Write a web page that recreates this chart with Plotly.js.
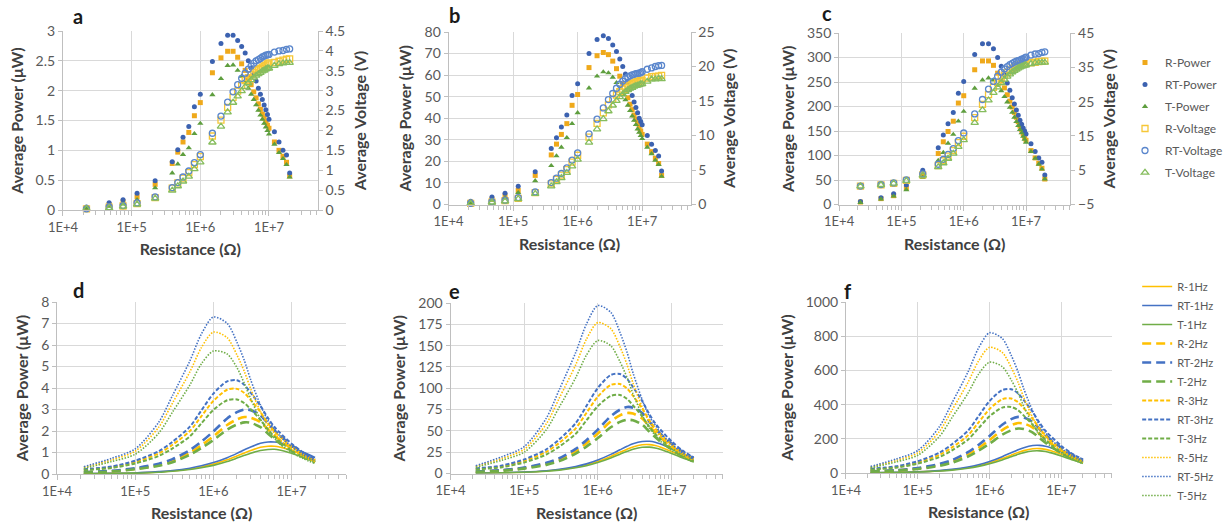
<!DOCTYPE html>
<html><head><meta charset="utf-8">
<script src="https://cdn.plot.ly/plotly-3.0.1.min.js"></script>
<style>html,body{margin:0;padding:0;background:#fff}#chart{width:1228px;height:529px}</style>
</head><body><div id="chart"></div>
<script>
// ---------- DATA (top panels: discrete measurements) ----------
const R_pts = [22e3,47e3,75e3,120e3,220e3,390e3,470e3,560e3,680e3,820e3,1e6,1.5e6,2e6,2.5e6,3e6,3.5e6,4e6,4.5e6,5e6,5.5e6,6e6,6.5e6,7e6,7.5e6,8e6,8.5e6,9e6,9.5e6,10e6,12e6,14e6,16e6,18e6,20e6];

const a_R_power  = [0.03,0.09,0.14,0.22,0.43,0.78,0.97,1.14,1.30,1.58,1.80,2.30,2.55,2.66,2.66,2.56,2.45,2.34,2.22,2.10,1.98,1.88,1.78,1.69,1.61,1.54,1.47,1.42,1.37,1.14,1.00,0.90,0.80,0.57];
const a_RT_power = [0.05,0.12,0.17,0.28,0.49,0.81,1.01,1.22,1.40,1.73,1.94,2.49,2.79,2.93,2.93,2.84,2.74,2.63,2.50,2.38,2.27,2.16,2.04,1.94,1.85,1.76,1.68,1.60,1.52,1.31,1.14,1.00,0.92,0.62];
const a_T_power  = [0.03,0.06,0.10,0.17,0.37,0.62,0.77,0.93,1.04,1.28,1.45,1.93,2.20,2.42,2.43,2.34,2.24,2.14,2.04,1.94,1.85,1.76,1.67,1.59,1.52,1.45,1.39,1.33,1.27,1.10,0.96,0.86,0.76,0.55];
const a_R_voltage  = [0.03,0.07,0.10,0.16,0.31,0.55,0.68,0.80,0.94,1.14,1.34,1.86,2.26,2.58,2.83,2.99,3.13,3.25,3.33,3.40,3.45,3.50,3.53,3.56,3.59,3.62,3.64,3.67,3.70,3.71,3.74,3.77,3.79,3.80];
const a_RT_voltage = [0.03,0.08,0.11,0.18,0.33,0.56,0.69,0.83,0.98,1.19,1.39,1.93,2.36,2.71,2.97,3.15,3.31,3.44,3.54,3.62,3.69,3.75,3.78,3.81,3.85,3.87,3.89,3.90,3.91,3.97,4.00,4.01,4.04,4.05];
const a_T_voltage  = [0.03,0.05,0.09,0.14,0.29,0.49,0.60,0.72,0.84,1.03,1.20,1.70,2.10,2.46,2.70,2.86,2.99,3.10,3.19,3.27,3.33,3.38,3.42,3.45,3.49,3.51,3.54,3.56,3.56,3.63,3.67,3.69,3.70,3.70];

const b_R_power  = [1.0,2.5,4.0,6.5,13.5,23,28,32.5,37.5,46,51,63.5,69,70.5,69.5,66.5,63,59.5,56,52.5,49.5,46.5,44,41.5,39.5,37.5,35.5,34,32.5,28,24.5,21.5,19,13.5];
const b_RT_power = [1.5,3.5,5.2,8.5,15.2,26,31,36,41.5,50.5,56,70,76.5,78.3,77,74,71,67.5,64,60.5,57,53.5,50.5,47.5,45,42.5,40,38.5,37,32,28,25,22.5,15.5];
const b_T_power  = [0.8,2.0,3.0,5.5,11,18,22.5,26.5,31,37.5,42.5,54,59.5,61.5,61,59,56.5,54,51,48.5,46,43.5,41,39,37,35,33.5,32,30.5,26.5,23.5,20.5,18.5,13];
const b_R_voltage  = [0.15,0.34,0.55,0.88,1.72,2.99,3.63,4.27,5.05,6.14,7.14,9.76,11.75,13.28,14.44,15.26,15.87,16.36,16.73,16.99,17.23,17.39,17.55,17.64,17.78,17.85,17.87,17.97,18.03,18.33,18.52,18.55,18.6,18.7];
const b_RT_voltage = [0.18,0.41,0.62,1.01,1.83,3.18,3.82,4.49,5.31,6.44,7.48,10.25,12.37,13.99,15.20,16.09,16.85,17.43,17.89,18.24,18.49,18.65,18.80,18.87,18.97,19.01,19.03,19.12,19.24,19.60,19.80,20.0,20.12,20.15];
const b_T_voltage  = [0.13,0.31,0.47,0.81,1.56,2.65,3.25,3.85,4.59,5.55,6.52,9.0,10.91,12.40,13.53,14.37,15.03,15.59,15.97,16.33,16.61,16.82,16.94,17.10,17.20,17.25,17.36,17.44,17.46,17.83,18.14,18.15,18.25,18.2];

const c_R_power  = [5,12,18,34,60,104,128,149,170,207,222,275,293,293,284,268,252,238,224,211,199,188,178,169,160,152,144,137,131,110,95,84,74,52];
const c_RT_power = [6,14,22,40,70,116,142,165,188,227,251,306,328,328,318,300,282,265,248,233,218,205,193,182,172,164,156,150,144,124,108,95,86,60];
const c_T_power  = [4,11,17,30,55,90,106,125,143,170,190,237,254,258,254,243,232,220,209,198,188,178,169,161,153,146,139,133,127,108,94,82,72,52];
const c_R_voltage  = [0.33,0.75,1.16,2.02,3.63,6.37,7.76,9.13,10.75,13.03,14.90,20.31,24.21,27.06,29.19,30.63,31.75,32.73,33.47,34.07,34.55,34.96,35.30,35.60,35.78,35.94,36.0,36.08,36.19,36.33,36.47,36.66,36.7,36.8];
const c_RT_voltage = [0.36,0.81,1.28,2.19,3.92,6.73,8.17,9.61,11.31,13.64,15.84,21.42,25.61,28.64,30.89,32.40,33.59,34.53,35.21,35.80,36.17,36.50,36.76,36.95,37.09,37.34,37.47,37.75,37.95,38.57,38.88,38.99,39.35,39.5];
const c_T_voltage  = [0.30,0.72,1.13,1.90,3.48,5.92,7.06,8.37,9.86,11.81,13.78,18.85,22.54,25.40,27.60,29.16,30.46,31.46,32.33,33.0,33.59,34.01,34.39,34.75,34.99,35.23,35.37,35.55,35.64,36.0,36.28,36.3,36.4,36.4];

// ---------- DATA (bottom panels: curves) ----------
const R_line = [22e3,50e3,100e3,200e3,300e3,500e3,700e3,1e6,1.5e6,2e6,2.5e6,3e6,4e6,5e6,6e6,7e6,10e6,14e6,20e6];

const d_R_1Hz  = [0.01,0.03,0.05,0.10,0.14,0.23,0.33,0.46,0.66,0.84,0.98,1.09,1.24,1.29,1.29,1.26,1.10,0.88,0.66];
const d_RT_1Hz = [0.02,0.03,0.05,0.11,0.16,0.27,0.38,0.53,0.76,0.96,1.13,1.26,1.43,1.49,1.49,1.46,1.27,1.02,0.77];
const d_T_1Hz  = [0.01,0.02,0.04,0.08,0.13,0.21,0.29,0.40,0.58,0.74,0.87,0.97,1.09,1.14,1.15,1.12,0.97,0.78,0.59];
const d_R_2Hz  = [0.08,0.13,0.24,0.42,0.61,0.98,1.33,1.75,2.28,2.54,2.65,2.62,2.41,2.07,1.80,1.59,1.19,0.87,0.61];
const d_RT_2Hz = [0.09,0.15,0.27,0.48,0.69,1.11,1.50,1.98,2.58,2.88,3.00,2.97,2.73,2.34,2.04,1.80,1.35,0.99,0.69];
const d_T_2Hz  = [0.07,0.12,0.22,0.38,0.55,0.89,1.20,1.58,2.06,2.30,2.40,2.38,2.18,1.87,1.63,1.44,1.08,0.79,0.55];
const d_R_3Hz  = [0.20,0.32,0.56,0.96,1.36,2.00,2.68,3.40,3.92,3.96,3.76,3.44,2.88,2.36,2.00,1.76,1.28,0.92,0.64];
const d_RT_3Hz = [0.22,0.35,0.62,1.06,1.50,2.20,2.95,3.74,4.31,4.36,4.14,3.78,3.17,2.60,2.20,1.94,1.41,1.01,0.70];
const d_T_3Hz  = [0.18,0.28,0.49,0.84,1.19,1.75,2.35,2.98,3.43,3.47,3.29,3.01,2.52,2.07,1.75,1.54,1.12,0.81,0.56];
const d_R_5Hz  = [0.30,0.66,1.06,2.18,3.30,4.75,5.87,6.60,6.34,5.54,4.75,3.96,2.90,2.24,1.91,1.62,1.16,0.83,0.56];
const d_RT_5Hz = [0.34,0.73,1.17,2.41,3.65,5.26,6.50,7.30,7.01,6.13,5.26,4.38,3.21,2.48,2.12,1.79,1.28,0.91,0.62];
const d_T_5Hz  = [0.26,0.58,0.92,1.90,2.88,4.14,5.12,5.72,5.58,4.95,4.20,3.50,2.55,1.97,1.67,1.41,1.01,0.72,0.49];

const e_R_1Hz  = [0.3,0.8,1.5,3.0,4.4,7.3,10.1,14.1,20.0,24.9,28.5,31.1,33.7,33.9,32.8,31.2,25.9,20.2,14.9];
const e_RT_1Hz = [0.4,0.8,1.7,3.3,4.9,8.2,11.3,15.8,22.4,27.8,31.9,34.8,37.6,37.8,36.7,34.8,29.0,22.6,16.6];
const e_T_1Hz  = [0.3,0.7,1.4,2.7,4.0,6.7,9.2,12.9,18.3,22.7,26.0,28.4,30.7,30.9,29.9,28.4,23.6,18.4,13.6];
const e_R_2Hz  = [2.1,3.6,6.4,11.4,16.3,26.3,35.5,46.9,61.1,68.2,71.0,70.3,64.6,55.4,48.3,42.6,32.0,23.4,16.3];
const e_RT_2Hz = [2.3,3.9,7.0,12.5,17.9,28.9,39.0,51.5,67.1,74.9,78.0,77.2,71.0,60.8,53.0,46.8,35.1,25.7,17.9];
const e_T_2Hz  = [1.9,3.2,5.7,10.1,14.5,23.3,31.5,41.6,54.2,60.5,63.0,62.4,57.3,49.1,42.8,37.8,28.4,20.8,14.5];
const e_R_3Hz  = [5.3,8.5,14.8,25.4,36.0,53.0,71.0,90.1,103.9,104.9,99.6,91.2,76.3,62.5,53.0,46.6,33.9,24.4,17.0];
const e_RT_3Hz = [5.9,9.4,16.5,28.3,40.1,59.0,79.1,100.3,115.6,116.8,110.9,101.5,85.0,69.6,59.0,51.9,37.8,27.1,18.9];
const e_T_3Hz  = [4.7,7.4,13.0,22.3,31.6,46.5,62.3,79.1,91.1,92.1,87.4,80.0,67.0,54.9,46.5,40.9,29.8,21.4,14.9];
const e_R_5Hz  = [8.1,17.7,28.3,58.4,88.5,127.4,157.5,177,169.9,148.7,127.4,106.2,77.9,60.2,51.3,43.4,31.0,22.1,15.0];
const e_RT_5Hz = [9.1,19.7,31.5,65.0,98.5,141.8,175.3,197,189.1,165.5,141.8,118.2,86.7,67.0,57.1,48.3,34.5,24.6,16.7];
const e_T_5Hz  = [7.2,15.6,25.0,51.5,78.0,112.3,138.8,156,149.8,131.0,112.3,93.6,68.6,53.0,45.2,38.2,27.3,19.5,13.3];

const f_R_1Hz  = [1.4,3.1,6.3,12.4,18.6,30.7,42.5,59.3,84.2,104.5,120,130.8,141.6,142.4,138,131.1,109,85.1,62.6];
const f_RT_1Hz = [1.6,3.6,7.1,14.1,21.1,34.8,48.1,67.2,95.4,118.4,135.9,148.2,160.4,161.4,156.3,148.6,123.4,96.4,71];
const f_T_1Hz  = [1.3,2.9,5.7,11.3,16.9,28,38.6,54,76.6,95,109.1,119,128.7,129.5,125.5,119.2,99.1,77.4,56.9];
const f_R_2Hz  = [8.8,14.6,26.3,46.7,67.2,108,146,192.7,251.1,280.3,292,289.1,265.7,227.8,198.6,175.2,131.4,96.4,67.2];
const f_RT_2Hz = [9.8,16.4,29.5,52.5,75.4,121.4,164,216.5,282.1,314.9,328,324.7,298.5,255.8,223,196.8,147.6,108.2,75.4];
const f_T_2Hz  = [7.8,13,23.4,41.6,59.8,96.2,130,171.6,223.6,249.6,260,257.4,236.6,202.8,176.8,156,117,85.8,59.8];
const f_R_3Hz  = [22,35.2,61.6,105.6,149.6,220,294.8,374,431.2,435.6,413.6,378.4,316.8,259.6,220,193.6,140.8,101.2,70.4];
const f_RT_3Hz = [24.8,39.6,69.3,118.8,168.3,247.5,331.7,420.8,485.1,490.1,465.3,425.7,356.4,292.1,247.5,217.8,158.4,113.9,79.2];
const f_T_3Hz  = [19.5,31.2,54.6,93.6,132.6,195,261.3,331.5,382.2,386.1,366.6,335.4,280.8,230.1,195,171.6,124.8,89.7,62.4];
const f_R_5Hz  = [33.8,73.5,117.6,242.6,367.5,529.2,654.2,735,705.6,617.4,529.2,441,323.4,249.9,213.2,180.1,128.6,91.9,62.5];
const f_RT_5Hz = [37.7,82,131.2,270.6,410,590.4,729.8,820,787.2,688.8,590.4,492,360.8,278.8,237.8,200.9,143.5,102.5,69.7];
const f_T_5Hz  = [29.8,64.8,103.7,213.8,324,466.6,576.7,648,622.1,544.3,466.6,388.8,285.1,220.3,187.9,158.8,113.4,81,55.1];

const xTickVals = [1e4,1e5,1e6,1e7];
const xTickText = ['1E+4','1E+5','1E+6','1E+7'];

// ---------- STYLES ----------
const FONT = "Lato, 'Open Sans', 'Liberation Sans', sans-serif";
const GRID = '#D9D9D9', LINE = '#BFBFBF', TICKTXT = '#595959', TITLE = '#404040';
const cR = '#FFC000', cRT = '#4472C4', cT = '#70AD47';
const mk = {
  R_P:  {symbol:'square', size:5, color:'#EFA91B'},
  RT_P: {symbol:'circle', size:5, color:'#3C62B0'},
  T_P:  {symbol:'triangle-up', size:5.5, color:'#5E9E3E'},
  R_V:  {symbol:'square-open', size:6, color:'#F6C737', line:{width:1.3}},
  RT_V: {symbol:'circle-open', size:6, color:'#5A86CC', line:{width:1.3}},
  T_V:  {symbol:'triangle-up-open', size:6.5, color:'#86BD5E', line:{width:1.3}}
};

const minorVals = [];
for (let e = 4; e <= 7; e++) for (let m = 2; m <= 9; m++) minorVals.push(m * Math.pow(10, e));

const traces = [];
function pts(y, xa, ya, name, style, show) {
  traces.push({type:'scatter', mode:'markers', x:R_pts, y:y, xaxis:xa, yaxis:ya, name:name,
    showlegend:show, legend:'legend', legendgroup:name, marker:style, cliponaxis:false});
}
function ln(y, xa, ya, name, color, dash, width, show) {
  traces.push({type:'scatter', mode:'lines', x:R_line, y:y, xaxis:xa, yaxis:ya, name:name,
    showlegend:show, legend:'legend2', legendgroup:name,
    line:{color:color, dash:dash, width:width, shape:'spline', smoothing:0.8}});
}

const topPanels = [
  ['x','y','y7', a_R_power,a_RT_power,a_T_power,a_R_voltage,a_RT_voltage,a_T_voltage, true],
  ['x2','y2','y8', b_R_power,b_RT_power,b_T_power,b_R_voltage,b_RT_voltage,b_T_voltage, false],
  ['x3','y3','y9', c_R_power,c_RT_power,c_T_power,c_R_voltage,c_RT_voltage,c_T_voltage, false]
];
topPanels.forEach(p => {
  pts(p[3], p[0], p[1], 'R-Power', mk.R_P, p[9]);
  pts(p[4], p[0], p[1], 'RT-Power', mk.RT_P, p[9]);
  pts(p[5], p[0], p[1], 'T-Power', mk.T_P, p[9]);
  pts(p[6], p[0], p[2], 'R-Voltage', mk.R_V, p[9]);
  pts(p[7], p[0], p[2], 'RT-Voltage', mk.RT_V, p[9]);
  pts(p[8], p[0], p[2], 'T-Voltage', mk.T_V, p[9]);
});

const D1 = 'solid', D2 = '9px,5px', D3 = '4px,2px', D5 = '1.5px,1.5px';
const bottomPanels = [
  ['x4','y4', [d_R_1Hz,d_RT_1Hz,d_T_1Hz,d_R_2Hz,d_RT_2Hz,d_T_2Hz,d_R_3Hz,d_RT_3Hz,d_T_3Hz,d_R_5Hz,d_RT_5Hz,d_T_5Hz], true],
  ['x5','y5', [e_R_1Hz,e_RT_1Hz,e_T_1Hz,e_R_2Hz,e_RT_2Hz,e_T_2Hz,e_R_3Hz,e_RT_3Hz,e_T_3Hz,e_R_5Hz,e_RT_5Hz,e_T_5Hz], false],
  ['x6','y6', [f_R_1Hz,f_RT_1Hz,f_T_1Hz,f_R_2Hz,f_RT_2Hz,f_T_2Hz,f_R_3Hz,f_RT_3Hz,f_T_3Hz,f_R_5Hz,f_RT_5Hz,f_T_5Hz], false]
];
const lineNames = ['R-1Hz','RT-1Hz','T-1Hz','R-2Hz','RT-2Hz','T-2Hz','R-3Hz','RT-3Hz','T-3Hz','R-5Hz','RT-5Hz','T-5Hz'];
const lineColors = [cR,cRT,cT];
const lineDash = [D1,D2,D3,D5];
const lineW = [1.6,2.6,2.0,1.6];
bottomPanels.forEach(p => {
  p[2].forEach((ys, i) => ln(ys, p[0], p[1], lineNames[i], lineColors[i%3], lineDash[Math.floor(i/3)], lineW[Math.floor(i/3)], p[3]));
});

// ---------- LAYOUT ----------
const W = 1228, H = 529;
function dx(a,b){ return [a/W, b/W]; }
function dy(t,b){ return [1-b/H, 1-t/H]; }
function xax(domain, rmax, anchor) {
  return {domain:domain, anchor:anchor, type:'log', range:[4, rmax], tickmode:'array', tickvals:xTickVals, ticktext:xTickText,
    showgrid:true, gridcolor:GRID, gridwidth:1, showline:true, linecolor:LINE, linewidth:1, ticks:'outside', ticklen:5, tickcolor:LINE,
    tickfont:{family:FONT, size:13, color:TICKTXT}, zeroline:false,
    minor:{tickmode:'array', tickvals:minorVals, ticks:'outside', ticklen:4, tickcolor:LINE, showgrid:false},
    title:{text:'<b>Resistance (Ω)</b>', font:{family:FONT, size:16, color:TITLE}, standoff:10}};
}
function yax(domain, range, dtick, anchor, title) {
  return {domain:domain, anchor:anchor, range:range, dtick:dtick, tick0:0, showgrid:true, gridcolor:GRID, gridwidth:1,
    showline:true, linecolor:LINE, ticks:'outside', ticklen:4, tickcolor:LINE, zeroline:false,
    tickfont:{family:FONT, size:14, color:TICKTXT},
    title:{text:'<b>'+title+'</b>', font:{family:FONT, size:16, color:TITLE}, standoff:8}};
}
function yright(over, anchor, range, dtick, tick0) {
  return {overlaying:over, anchor:anchor, side:'right', range:range, dtick:dtick, tick0:tick0, showgrid:false, zeroline:false,
    showline:true, linecolor:LINE, ticks:'outside', ticklen:4, tickcolor:LINE,
    tickfont:{family:FONT, size:14, color:TICKTXT},
    title:{text:'<b>Average Voltage (V)</b>', font:{family:FONT, size:16, color:TITLE}, standoff:10}};
}
const PW = 'Average Power (μW)';
const layout = {
  width:W, height:H, margin:{l:0,r:0,t:0,b:0}, paper_bgcolor:'#fff', plot_bgcolor:'#fff',
  font:{family:FONT, color:TICKTXT},
  xaxis:  xax(dx(64,323),   7.71, 'y'),
  xaxis2: xax(dx(456,702),  7.75, 'y2'),
  xaxis3: xax(dx(853,1088), 7.71, 'y3'),
  xaxis4: xax(dx(58,352),   7.70, 'y4'),
  xaxis5: xax(dx(458,735),  7.70, 'y5'),
  xaxis6: xax(dx(860,1130), 7.70, 'y6'),
  yaxis:  yax(dy(31,210),    [0,3],    0.5, 'x',  PW),
  yaxis2: yax(dy(32,204.5),  [0,80],   10,  'x2', PW),
  yaxis3: yax(dy(33,204.5),  [0,350],  50,  'x3', PW),
  yaxis4: yax(dy(302,474),   [0,8],    1,   'x4', PW),
  yaxis5: yax(dy(303,473.5), [0,200],  25,  'x5', PW),
  yaxis6: yax(dy(302,473),   [0,1000], 200, 'x6', PW),
  yaxis7: yright('y',  'x',  [0,4.5], 0.5, 0),
  yaxis8: yright('y2', 'x2', [0,25],  5,   0),
  yaxis9: yright('y3', 'x3', [-5,45], 10, -5),
  legend: {x:1144/W, y:1-48/H, xanchor:'left', yanchor:'top', bgcolor:'rgba(0,0,0,0)',
    font:{family:FONT, size:12, color:TICKTXT}, itemwidth:30, traceorder:'grouped', tracegroupgap:3, itemsizing:'trace'},
  legend2: {x:1156/W, y:1-272/H, xanchor:'left', yanchor:'top', bgcolor:'rgba(0,0,0,0)',
    font:{family:FONT, size:11, color:TICKTXT}, itemwidth:30, traceorder:'normal'},
  annotations: [['a',79,16],['b',462,15],['c',841,13],['d',80,290],['e',462,291],['f',862,291]].map(t => ({
    text:'<b>'+t[0]+'</b>', x:t[1]/W, y:1-t[2]/H, xref:'paper', yref:'paper', showarrow:false, borderpad:0,
    xanchor:'center', yanchor:'middle', font:{family:FONT, size:20, color:'#1a1a1a'}}))
};

Plotly.newPlot('chart', traces, layout, {staticPlot:true, displayModeBar:false});
</script></body></html>
